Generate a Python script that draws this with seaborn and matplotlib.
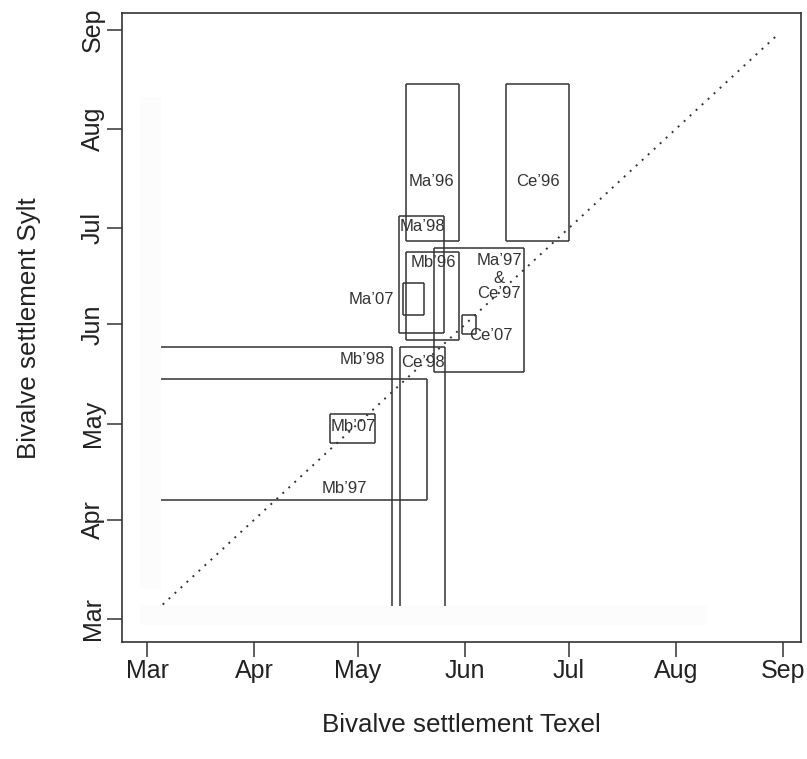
import matplotlib
matplotlib.use("Agg")
import matplotlib.pyplot as plt
import seaborn as sns
import pandas as pd
import numpy as np

# ---- data (day of year) ----
month_days = [60, 91, 121, 152, 182, 213, 244]
month_labels = ["Mar", "Apr", "May", "Jun", "Jul", "Aug", "Sep"]

# settlement windows: Texel (x) start/end, Sylt (y) start/end
box_names = ["Ma’96", "Ce’96", "Ma’98", "Mb’96", "Ma’07", "Ma’97&Ce’97",
             "Ce’07", "Ce’98", "Mb’98", "Mb’97", "Mb’07"]
texel_start = [135.0, 164.0, 133.0, 135.0, 134.0, 143.0, 151.1, 133.1, 64.0, 64.0, 113.0]
texel_end   = [150.2, 182.0, 146.0, 150.2, 140.0, 169.1, 155.1, 146.2, 131.0, 141.1, 126.1]
sylt_start  = [178.1, 178.1, 149.3, 147.1, 155.1, 137.0, 149.1, 64.1, 64.1, 97.1, 114.9]
sylt_end    = [227.0, 227.0, 186.0, 174.7, 165.1, 176.0, 155.0, 145.0, 145.0, 134.9, 124.0]
# sides left open
open_left   = [False, False, False, False, False, False, False, False, True, True, False]
open_bottom = [False, False, False, False, False, False, False, True, True, False, False]

label_text = ["Ma’96", "Ce’96", "Ma’98", "Mb’96", "Ma’07", "Ma’97", "&", "Ce’97",
              "Ce’07", "Mb’98", "Ce’98", "Mb’07", "Mb’97"]
label_x = [142.4, 173.0, 139.6, 142.8, 124.9, 161.9, 161.9, 161.9,
           159.5, 122.2, 139.8, 119.6, 117.0]
label_y = [196.8, 196.8, 182.6, 171.4, 159.7, 171.9, 166.4, 161.7,
           148.7, 140.9, 140.0, 120.0, 100.9]

diag_days = [64.5, 241.8]

sns.set_theme(style="white")
plt.rcParams["font.family"] = ["Liberation Sans", "DejaVu Sans"]

W, H = 807, 759
fig = plt.figure(figsize=(W / 100, H / 100), dpi=100)
ax = fig.add_axes([122.3 / W, 1 - 642 / H, (800.7 - 122.3) / W, (642 - 13.3) / H])
ax.set_facecolor("white")

lc = "#333333"

# very faint background strips
ax.fill_between([58, 64], 69.5, 223, color="#fcfcfc", lw=0, zorder=0)
ax.fill_between([58, 222], 58, 64.5, color="#fcfcfc", lw=0, zorder=0)

# 1:1 line
diag = pd.DataFrame({"texel": diag_days, "sylt": diag_days})
sns.lineplot(data=diag, x="texel", y="sylt", ax=ax, color=lc,
             linestyle=(0, (1, 3.2)), lw=1.4, zorder=2)

for i in range(len(box_names)):
    x0, x1 = texel_start[i], texel_end[i]
    y0, y1 = sylt_start[i], sylt_end[i]
    ax.plot([x0, x1], [y1, y1], color=lc, lw=1.1, solid_capstyle="butt")
    ax.plot([x1, x1], [y0, y1], color=lc, lw=1.1, solid_capstyle="butt")
    if not open_left[i]:
        ax.plot([x0, x0], [y0, y1], color=lc, lw=1.1, solid_capstyle="butt")
    if not open_bottom[i]:
        ax.plot([x0, x1], [y0, y0], color=lc, lw=1.1, solid_capstyle="butt")

for t, x, y in zip(label_text, label_x, label_y):
    ax.text(x, y, t, ha="center", va="center", fontsize=12, color="#333333")

ax.set_xlim(52.8, 249.2)
ax.set_ylim(52.8, 249.2)
ax.set_xticks(month_days)
ax.set_xticklabels(month_labels)
ax.set_yticks(month_days)
ax.set_yticklabels(month_labels, rotation=90, va="center")
ax.tick_params(axis="both", direction="out", length=11, width=1.1, color=lc,
               labelsize=18, labelcolor="#222222", bottom=True, left=True)
ax.tick_params(axis="x", pad=1)
ax.tick_params(axis="y", pad=1.5)
for s in ax.spines.values():
    s.set_color(lc)
    s.set_linewidth(1.2)
    s.set_visible(True)

ax.set_xlabel("Bivalve settlement Texel", fontsize=18.7, color="#222222", labelpad=22)
ax.set_ylabel("Bivalve settlement Sylt", fontsize=18.7, color="#222222", labelpad=29)

fig.savefig("out.png", dpi=100)
